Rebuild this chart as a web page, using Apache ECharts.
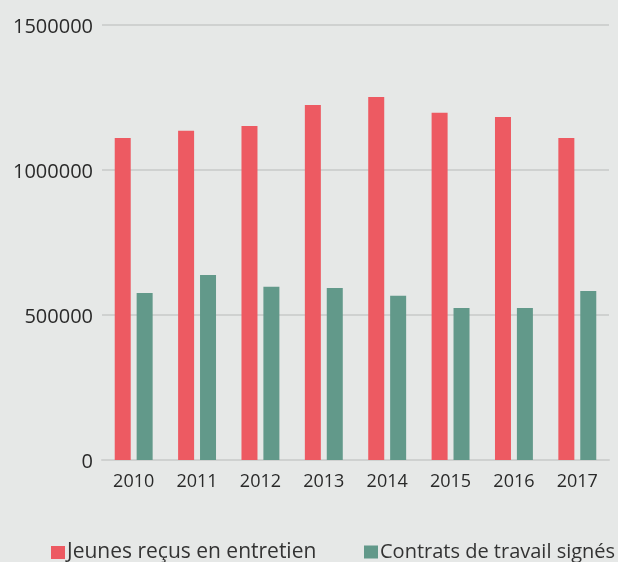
<!DOCTYPE html>
<html>
<head>
<meta charset="utf-8">
<script src="https://cdn.jsdelivr.net/npm/echarts@6/dist/echarts.min.js"></script>
<style>
  html, body { margin: 0; padding: 0; background: #e6e8e7; }
  #main { width: 618px; height: 562px; }
</style>
</head>
<body>
<div id="main"></div>
<script>
var years = ['2010', '2011', '2012', '2013', '2014', '2015', '2016', '2017'];
var jeunes = [1110000, 1135000, 1152000, 1224000, 1252000, 1197000, 1183000, 1110000];
var contrats = [576000, 638000, 597000, 593000, 566000, 524000, 524000, 583000];
var seriesNames = ['Jeunes reçus en entretien', 'Contrats de travail signés'];

var chart = echarts.init(document.getElementById('main'));

// one legend per series so the second never wraps
function legendAt(left, name, size) {
  return {
    left: left,
    top: 537,
    icon: 'rect',
    itemWidth: 14,
    itemHeight: 13,
    textStyle: { fontSize: size, color: '#333', fontFamily: 'Open Sans', padding: [0, 0, 0, -3] },
    data: [name]
  };
}

var option = {
  backgroundColor: '#e6e8e7',
  animation: false,
  textStyle: { fontFamily: 'Open Sans', color: '#2a2a2a' },
  color: ['#ed5a62', '#62998a'],
  grid: { left: 102, right: 9, top: 25, bottom: 102, containLabel: false },
  legend: [legendAt(46, seriesNames[0], 21), legendAt(359, seriesNames[1], 20)],
  xAxis: {
    type: 'category',
    data: years,
    axisTick: { show: false },
    axisLine: { lineStyle: { color: '#cfd1d0', width: 2 } },
    axisLabel: { fontSize: 18, margin: 13, color: '#2a2a2a' }
  },
  yAxis: {
    type: 'value',
    min: 0,
    max: 1500000,
    interval: 500000,
    axisLine: { show: false },
    axisTick: { show: false },
    splitLine: { lineStyle: { color: '#cfd1d0', width: 2 } },
    axisLabel: {
      fontSize: 20, margin: 9, color: '#2a2a2a', verticalAlign: 'top', lineHeight: 20, padding: [-8, 0, 0, 0],
      formatter: function (v) { return String(v); }
    }
  },
  series: [
    { name: seriesNames[0], type: 'bar', data: jeunes, barWidth: 16, barGap: '37%' },
    { name: seriesNames[1], type: 'bar', data: contrats, barWidth: 16, barGap: '37%' }
  ]
};

chart.setOption(option);
</script>
</body>
</html>
